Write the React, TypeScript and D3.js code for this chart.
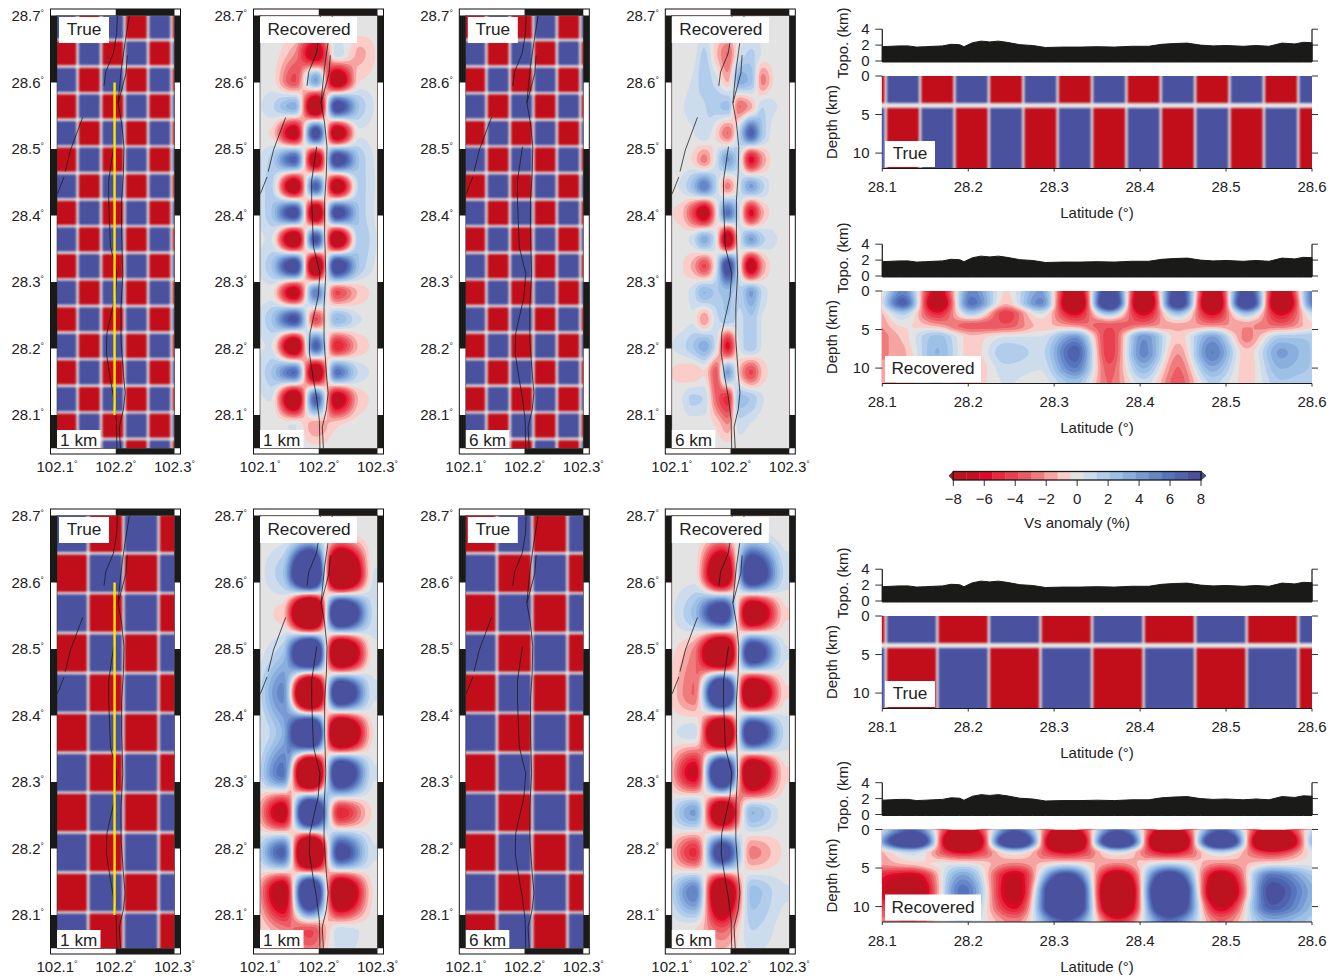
import React, { useMemo } from "react";
import * as d3 from "d3";

// ---------- colour scale ----------
const cbarColors = ["#bd1220","#c80f1f","#e2062b","#e62a3c","#e93f4e","#ec5a63","#f07b7d","#f6a4a1","#fbcdc8","#e3e3e3","#cddcec","#b2cdeb","#9cc0e6","#8aaedd","#7899d2","#6487c8","#5673bd","#4f62ae","#4a52a0"];
const cbarTicks = [-8,-6,-4,-2,0,2,4,6,8];
const RED = "#c20e1b";
const BLUE = "#4a52a0";
const GREY = "#e3e3e3";
const INK = "#1a1a18";

// ---------- axes ----------
const latTicks = [28.7,28.6,28.5,28.4,28.3,28.2,28.1];
const lonTicks = [102.1,102.2,102.3];
const profLatTicks = [28.1,28.2,28.3,28.4,28.5,28.6];
const topoTicks = [0,2,4];
const depthTicks = [0,5,10];

// ---------- true checkerboards ----------
const lonEdges04 = [102.095,102.135,102.175,102.215,102.255,102.295,102.335];
const latEdges04 = [28.024,28.064,28.104,28.144,28.184,28.224,28.264,28.304,28.344,28.384,28.424,28.464,28.504,28.544,28.584,28.624,28.664,28.704];
const lonEdges06 = [102.093,102.153,102.213,102.273,102.333];
const latEdges06 = [28.044,28.104,28.164,28.224,28.284,28.344,28.404,28.464,28.524,28.584,28.644,28.704];

// ---------- recovered maps (value at grid nodes, north to south) ----------
const lons04 = [102.08,102.118,102.158,102.195,102.231,102.27,102.31];
const lats04 = [28.724,28.684,28.644,28.604,28.564,28.524,28.484,28.444,28.404,28.364,28.324,28.284,28.244,28.204,28.164,28.124,28.084,28.044];
const map1km04 = [
  [0,0,0,0,0,0,0],
  [0,0,0,-1,0,0,0],
  [0,0,-2,-8,1,-1.5,0],
  [0,0,-4,4,-9,-0.5,0],
  [0,1,3.5,-11,9,2,0],
  [0,-0.5,-8,9,-9,0.3,0],
  [0,1.5,7,-9,9.5,2,0],
  [0,1.5,-9,7,-9,1.5,0],
  [0,2,9,-10,9,2,0],
  [0,0.5,-10,8,-10,2,0],
  [0,2,10,-11,10,2,0],
  [0,0,-8,5.5,-4,-1,0],
  [0,2,8,-4,3,0.5,0],
  [0,0.5,-10,7,-5.5,-1,0],
  [0,2,6.5,-10,6,1,0],
  [0,0.5,-10,7,-8,-1,0],
  [0,0,0.5,-2,-0.5,0,0],
  [0,0,0,0,0,0,0],
];
const lons02 = [102.075,102.115,102.135,102.155,102.175,102.195,102.215,102.235,102.255,102.275,102.315];
const map6km04 = [
  [0,0,0,0,0,0,0,0,0,0,0],
  [0,0,0,0,0,0,0,0,0,0,0],
  [0,0,0,1.5,-1,-3,0.4,1.5,0.3,0,0],
  [0,0,0.5,1.8,0.8,-1.5,3.5,2.5,-2.5,-0.3,0],
  [0,0.3,0.8,1.2,1.8,2.5,-3,-1.5,1.2,0.5,0],
  [0,0,0.3,1.2,-0.5,-3,1.5,7,2,0,0],
  [0,0,-0.5,-2.5,0.5,4,0.8,-6,-2,0,0],
  [0,0.5,2.5,5.5,1.5,-2.5,0.8,4,1.5,0,0],
  [0,-0.8,-4,-8,-1,6,0.8,-6,-1.5,0,0],
  [0,0,0.8,3.5,0.3,-9,0.3,4,1.5,0.5,0],
  [0,-0.3,-1.5,-4,0.3,9,0.3,-8,-2,0,0],
  [0,0,0.8,3,2,2.5,1.5,4,1,0,0],
  [0,0,0.3,-2,0.8,2,1,2,0.3,0,0],
  [0,0.8,2,3.5,0.8,-6,0.5,2,0.3,0,0],
  [0,-0.8,-1.2,-0.5,-3.5,4,-1.2,-4,-1,0,0],
  [0,0.3,1.5,1.2,-3,-5,2.5,2,0.5,0,0],
  [0,0,0,0,-0.5,-2,0.8,0.3,0,0,0],
  [0,0,0,0,0,0,0,0,0,0,0],
];
const lons06 = [102.085,102.1375,102.185,102.237,102.295];
const lats06 = [28.734,28.674,28.614,28.554,28.494,28.434,28.374,28.314,28.254,28.194,28.134,28.074,28.014];
const map1km06 = [
  [0,0,0,0,0],
  [0,0,0.8,-0.6,0],
  [0,2,18,-17,0.5],
  [0,-0.8,-18,15,1],
  [0,2,17,-14,0.2],
  [0,5,-18,13,0.5],
  [0,3,17,-15,-0.3],
  [0,6,-17,13,0.5],
  [0,-8,15,-5.5,-0.3],
  [0,7,-17,9,0.5],
  [0,-9,15,-12,-0.3],
  [0,-2,-4,1,0],
  [0,0,0,0,0],
];
const map6km06 = [
  [0,0,0,0,0],
  [0,0,-1,0.8,0],
  [0,0,-12,12,1],
  [0,2.5,11,-11,-0.5],
  [0,-2.5,-15,11,0.5],
  [0,-3,16,-13,-0.5],
  [0,1,-15,12,1],
  [0,-7,15,-12,-0.5],
  [0,4,-11,3,0],
  [0,-5,10,-2.5,-0.3],
  [0,5.5,-12,2.5,0.5],
  [0,-0.5,-3,1.2,0],
  [0,0,0,0,0],
];

// ---------- recovered profiles (rows = depth, columns = latitude) ----------
const depths = [0,1.5,3,4.5,6,8,10,12];
const profLats04 = [28.084,28.124,28.164,28.204,28.244,28.284,28.324,28.364,28.404,28.444,28.484,28.524,28.564,28.604];
const prof04 = [
  [-3,5,-7,5,-0.5,4,-9,10,-9,9,-9,9,-9,6],
  [-3,7,-9,6,-1,5,-11,12,-11,10,-11,11,-11,6],
  [-3,1.5,-5,1.5,-4.5,0.3,-6,2,-6,2,-6,2,-6,1],
  [-3,-0.3,-1.5,-3.5,-3.5,-1,-2,-3.5,-2.5,-1.5,-2,-2,-3,-0.5],
  [-3,-1,2.5,-1,0.5,0.5,4.5,-4.5,4.5,-1,4,-2.5,2,2],
  [-2.5,-1.5,3,-1,2,1,7,-4.5,5,-2,5.5,-1,4,2],
  [-2,-1.5,1.5,-1.5,1,0.5,5.5,-3.5,3,-3,3.5,-1,3,2],
  [-2,-1,0.5,-1,0.5,0,2.5,-3,1,-3.5,1.5,-0.8,2,1.5],
];
const profLats06 = [28.074,28.134,28.194,28.254,28.314,28.374,28.434,28.494,28.554,28.614];
const prof06 = [
  [-3,7,-9,7,-9,7,-9,7,-9,3],
  [-3,14,-16,14,-16,14,-16,14,-16,6],
  [-3,1,-6,0.5,-6,0.5,-6,1,-5,1],
  [-2.5,-1,0.3,-2.5,0.5,-2.5,1.5,-2.5,0,0.3],
  [-4,-7,4,-7,9,-9,10,-8,6,1.5],
  [-4,-10,6,-8,16,-14,16,-11,8,2.5],
  [-3,-6,4,-6,15,-12,13,-7,7,2],
  [-2.5,-3,1.5,-2.5,7,-5,6,-3,3.5,1.5],
];

// ---------- topography ----------
const topoLat = [28.1,28.11,28.12,28.13,28.14,28.15,28.16,28.17,28.18,28.19,28.195,28.205,28.215,28.225,28.235,28.245,28.26,28.275,28.29,28.31,28.33,28.35,28.37,28.39,28.41,28.425,28.44,28.455,28.47,28.485,28.5,28.52,28.535,28.55,28.565,28.58,28.59,28.6];
const topoKm = [1.8,1.85,1.9,1.9,1.75,1.8,1.85,1.9,2.1,2.05,1.8,2.3,2.5,2.4,2.5,2.35,2.05,1.95,1.7,1.75,1.75,1.8,1.75,1.85,1.85,2.1,2.2,2.25,2.0,1.9,1.95,1.85,1.95,1.85,2.25,2.15,2.35,2.3];

// ---------- faults (lon, lat) ----------
const faultA = [[102.2231,28.7005],[102.2157,28.659],[102.21,28.624],[102.206,28.589],[102.204,28.569],[102.21,28.539],[102.214,28.5035],[102.213,28.463],[102.21,28.423],[102.21,28.373],[102.212,28.313],[102.209,28.263],[102.209,28.213],[102.213,28.163],[102.216,28.133],[102.213,28.108],[102.206,28.082],[102.208,28.049]];
const faultB = [[102.2027,28.7005],[102.2016,28.674],[102.196,28.644],[102.183,28.616],[102.18,28.595]];
const faultC = [[102.2197,28.641],[102.2175,28.614],[102.21,28.589],[102.204,28.569]];
const faultD = [[102.1965,28.5035],[102.188,28.453],[102.188,28.423],[102.191,28.353],[102.202,28.313],[102.199,28.278],[102.185,28.223],[102.184,28.193],[102.191,28.153],[102.196,28.128],[102.201,28.093],[102.202,28.049]];
const faultE1 = [[102.1437,28.5476],[102.123,28.4985],[102.114,28.466]];
const faultE2 = [[102.112,28.458],[102.1006,28.4325]];
const faults = [faultA,faultB,faultC,faultD,faultE1,faultE2];
const yellowLine = [[102.198,28.6],[102.198,28.1]];

// ---------- panel list ----------
const panelLefts = [50.5,253.5,459.3,665.3];
const thresholds = d3.range(1,19).map(i => -8 + i*16/19);

// monotone cubic between grid nodes: no overshoot past the values read
function mono(p0:number,p1:number,p2:number,p3:number,t:number){
  const d0=p1-p0,d1=p2-p1,d2=p3-p2;
  const m1=d0*d1<=0?0:2*d0*d1/(d0+d1);
  const m2=d1*d2<=0?0:2*d1*d2/(d1+d2);
  const t2=t*t,t3=t2*t;
  return (2*t3-3*t2+1)*p1+(t3-2*t2+t)*m1+(-2*t3+3*t2)*p2+(t3-t2)*m2;
}
function sampler(xs:number[],ys:number[],grid:number[][]){
  const xi = d3.scaleLinear().domain(xs).range(xs.map((_,i)=>i)).clamp(true);
  const yi = d3.scaleLinear().domain(ys).range(ys.map((_,i)=>i)).clamp(true);
  const nx = xs.length, ny = ys.length;
  return (x:number,y:number)=>{
    const fx = xi(x), fy = yi(y);
    const ix = Math.min(Math.floor(fx),nx-2), iy = Math.min(Math.floor(fy),ny-2);
    const tx = fx-ix, ty = fy-iy;
    const col:number[] = [];
    for(let r=-1;r<=2;r++){
      const row = grid[Math.max(0,Math.min(ny-1,iy+r))];
      const c=(k:number)=>row[Math.max(0,Math.min(nx-1,ix+k))];
      col.push(mono(c(-1),c(0),c(1),c(2),tx));
    }
    return mono(col[0],col[1],col[2],col[3],ty);
  };
}
function bands(w:number,h:number,step:number,fn:(px:number,py:number)=>number){
  const nx=Math.ceil(w/step), ny=Math.ceil(h/step);
  const v=new Array(nx*ny);
  for(let j=0;j<ny;j++)for(let i=0;i<nx;i++)v[j*nx+i]=fn((i+0.5)*step,(j+0.5)*step);
  const cs=d3.contours().size([nx,ny]).smooth(true).thresholds(thresholds)(v);
  const path=d3.geoPath();
  return cs.map((c,i)=>({d:path(c as any)||"",fill:cbarColors[i+1]}));
}

const font="'Liberation Sans', Arial, sans-serif";
const Deg=()=> <tspan fontSize={8.5} dy={-5}>°</tspan>;

function Checker({lonE,latE,xs,ys,redParity}:{lonE:number[];latE:number[];xs:any;ys:any;redParity:number}){
  const cells:any[]=[];
  for(let j=0;j<latE.length-1;j++)for(let i=0;i<lonE.length-1;i++){
    const x0=xs(lonE[i])+1.2,x1=xs(lonE[i+1])-1.2;
    const y0=ys(latE[j+1])+1.2,y1=ys(latE[j])-1.2;
    cells.push(<rect key={i+"-"+j} x={x0} y={y0} width={x1-x0} height={y1-y0} rx={1.5} fill={(i+j)%2===redParity?RED:BLUE}/>);
  }
  return <>{cells}</>;
}

function MapPanel({left,top,kind,depthLabel,field,lonE,latE,redParity,yellow,id}:any){
  const xs=d3.scaleLinear().domain([102.1,102.3]).range([left+6.5,left+124]);
  const ys=d3.scaleLinear().domain([28.7,28.1]).range([top+7,top+406]);
  const ix0=left+6.5,ix1=left+124,iy0=top+6.5,iy1=top+439.5;
  const line=d3.line().x((d:any)=>xs(d[0])).y((d:any)=>ys(d[1]));
  const b=useMemo(()=>{
    if(!field) return null;
    const f=sampler(field.lons,field.lats,field.grid);
    return bands(ix1-ix0,iy1-iy0,1.5,(px,py)=>f(xs.invert(ix0+px),ys.invert(iy0+py)));
  },[field]);
  const latStops=[...latTicks,28.05];
  return <g>
    <rect x={left} y={top} width={130} height={445} fill="#fff" stroke="#111" strokeWidth={1}/>
    <clipPath id={id}><rect x={ix0} y={iy0} width={ix1-ix0} height={iy1-iy0}/></clipPath>
    <g clipPath={`url(#${id})`}>
      <rect x={ix0} y={iy0} width={ix1-ix0} height={iy1-iy0} fill={b?cbarColors[0]:GREY}/>
      {b&&<g transform={`translate(${ix0},${iy0}) scale(1.5)`}>{b.map((p,i)=><path key={i} d={p.d} fill={p.fill}/>)}</g>}
      {!b&&<g filter="url(#soft)"><rect x={ix0-8} y={iy0-8} width={ix1-ix0+16} height={iy1-iy0+16} fill={GREY}/><Checker lonE={lonE} latE={latE} xs={xs} ys={ys} redParity={redParity}/></g>}
      {faults.map((f,i)=><path key={i} d={line(f as any)||""} fill="none" stroke="#1a1a1a" strokeWidth={0.75}/>)}
      {yellow&&<path d={line(yellowLine as any)||""} stroke="#ffe600" strokeWidth={2.4} fill="none"/>}
    </g>
    <rect x={ix0} y={iy0} width={ix1-ix0} height={iy1-iy0} fill="none" stroke="#333" strokeWidth={0.6}/>
    {latStops.slice(0,-1).map((l,i)=>i%2===0?(
      <g key={l}>
        <rect x={left} y={ys(l)-(i===0?0.5:0)} width={6.5} height={ys(latStops[i+1])-ys(l)+(i===0?0.5:0)} fill={INK}/>
        <rect x={ix1} y={ys(l)-(i===0?0.5:0)} width={6} height={ys(latStops[i+1])-ys(l)+(i===0?0.5:0)} fill={INK}/>
      </g>):null)}
    <rect x={xs(102.2)} y={top} width={ix1-xs(102.2)} height={6.5} fill={INK}/>
    <rect x={xs(102.2)} y={iy1} width={ix1-xs(102.2)} height={5.5} fill={INK}/>
    {latTicks.map(l=><text key={l} x={left-6.5} y={ys(l)+5.3} textAnchor="end" fontSize={15}>{l.toFixed(1)}<Deg/></text>)}
    {lonTicks.map(l=><text key={l} x={xs(l)} y={top+463} textAnchor="middle" fontSize={15}>{l.toFixed(1)}<Deg/></text>)}
    {kind==="True"
      ?<rect x={left+8.5} y={top+8} width={50} height={26} fill="#fff"/>
      :<rect x={left+6.5} y={top+8} width={97} height={26} fill="#fff"/>}
    <text x={kind==="True"?left+33.5:left+55.5} y={top+25.7} textAnchor="middle" fontSize={17.2}>{kind}</text>
    <rect x={left+6.5} y={top+421} width={43.5} height={18} fill="#fff"/>
    <text x={left+28.2} y={top+436.6} textAnchor="middle" fontSize={17.2}>{depthLabel}</text>
  </g>;
}

function Profile({d0,kind,field,latE,topRed,id}:any){
  const X0=882.3,X1=1312;
  const xs=d3.scaleLinear().domain([28.1,28.6]).range([X0,X1]);
  const yd=d3.scaleLinear().domain([0,12]).range([d0,d0+92.5]);
  const yt=d3.scaleLinear().domain([0,4]).range([d0-15,d0-46.8]);
  const area=d3.area().x((d:any,i:number)=>xs(topoLat[i])).y0(d0-14).y1((d:any)=>yt(d));
  const b=useMemo(()=>{
    if(!field) return null;
    const f=sampler(field.lats,field.depths,field.grid);
    return bands(X1-X0+1,92.5,1.5,(px,py)=>f(xs.invert(X0-0.5+px),yd.invert(d0+py)));
  },[field]);
  const h=yd(12)-d0;
  return <g>
    <path d={area(topoKm as any)||""} fill={INK} stroke={INK} strokeWidth={1}/>
    <path d={`M${X0},${yt(4)}V${yt(0)}M${X1},${yt(4)}V${yt(0)}`} stroke={INK} strokeWidth={1.2}/>
    {topoTicks.map(t=><g key={t}>
      <path d={`M${X0-7},${yt(t)}H${X0}M${X1},${yt(t)}H${X1+6}`} stroke={INK} strokeWidth={0.9}/>
      <text x={869.5} y={yt(t)+5.2} textAnchor="end" fontSize={15}>{t}</text>
    </g>)}
    <clipPath id={id}><rect x={X0-0.5} y={d0} width={X1-X0+0.5} height={h}/></clipPath>
    <g clipPath={`url(#${id})`}>
      <rect x={X0-0.5} y={d0} width={X1-X0+1} height={h} fill={b?cbarColors[0]:GREY}/>
      {b&&<g transform={`translate(${X0-0.5},${d0}) scale(1.5)`}>{b.map((p,i)=><path key={i} d={p.d} fill={p.fill}/>)}</g>}
      {!b&&<g filter="url(#soft)">
        <rect x={X0-10} y={d0-10} width={X1-X0+20} height={h+20} fill={GREY}/>
        {latE.slice(0,-1).map((l:number,j:number)=>{
          const x0=xs(l)+1.2,x1=xs(latE[j+1])-1.2;
          return <g key={j}>
            <rect x={x0} y={d0-5} width={x1-x0} height={yd(3.5)-d0+5} fill={j%2===topRed?RED:BLUE}/>
            <rect x={x0} y={yd(4.15)} width={x1-x0} height={yd(14)-yd(4.15)} fill={j%2===topRed?BLUE:RED}/>
          </g>;
        })}
      </g>}
    </g>
    <path d={`M${X0},${d0+h}H${X1}`} stroke={INK} strokeWidth={1.1}/>
    {depthTicks.map(t=><g key={t}>
      <path d={`M${X0-7},${yd(t)}H${X0}M${X1},${yd(t)}H${X1+6}`} stroke={INK} strokeWidth={0.9}/>
      <text x={869.5} y={yd(t)+5.2} textAnchor="end" fontSize={15}>{t}</text>
    </g>)}
    {profLatTicks.map(t=><g key={t}>
      <path d={`M${xs(t)},${d0+h}v3`} stroke={INK} strokeWidth={0.9}/>
      <text x={xs(t)} y={d0+116} textAnchor="middle" fontSize={15}>{t.toFixed(1)}</text>
    </g>)}
    <text x={1097} y={d0+142} textAnchor="middle" fontSize={15}>Latitude (°)</text>
    <text transform={`translate(847.5,${d0-33}) rotate(-90)`} textAnchor="middle" fontSize={15}>Topo. (km)</text>
    <text transform={`translate(837,${d0+46}) rotate(-90)`} textAnchor="middle" fontSize={15}>Depth (km)</text>
    <rect x={885} y={d0+65} width={kind==="True"?50:96} height={26} fill="#fff"/>
    <text x={kind==="True"?910:933} y={d0+83} textAnchor="middle" fontSize={17.2}>{kind}</text>
  </g>;
}

function Colorbar(){
  const x=d3.scaleLinear().domain([-8,8]).range([953.3,1201]);
  const y0=471.5,y1=480;
  return <g>
    <path d={`M953.3,${y0}L949,${(y0+y1)/2}L953.3,${y1}Z`} fill={cbarColors[0]} stroke={INK} strokeWidth={0.7}/>
    <path d={`M1201,${y0}L1206,${(y0+y1)/2}L1201,${y1}Z`} fill={cbarColors[18]} stroke={INK} strokeWidth={0.7}/>
    {cbarColors.map((c,i)=><rect key={i} x={x(-8+i*16/19)} y={y0} width={x(-8+(i+1)*16/19)-x(-8+i*16/19)+0.3} height={y1-y0} fill={c}/>)}
    <rect x={953.3} y={y0} width={247.7} height={y1-y0} fill="none" stroke={INK} strokeWidth={1.3}/>
    {cbarTicks.map(t=><g key={t}>
      <path d={`M${x(t)},${y1}v6`} stroke={INK} strokeWidth={0.9}/>
      <text x={x(t)} y={503.7} textAnchor="middle" fontSize={15}>{t<0?"−"+(-t):t}</text>
    </g>)}
    <text x={1077} y={527.5} textAnchor="middle" fontSize={15}>Vs anomaly (%)</text>
  </g>;
}

const f1={lons:lons04,lats:lats04,grid:map1km04};
const f2={lons:lons02,lats:lats04,grid:map6km04};
const f3={lons:lons06,lats:lats06,grid:map1km06};
const f4={lons:lons06,lats:lats06,grid:map6km06};
const p1={lats:profLats04,depths,grid:prof04};
const p2={lats:profLats06,depths,grid:prof06};

export default function App(){
  return <svg width={1338} height={979} viewBox="0 0 1338 979" style={{position:"absolute",left:0,top:0,background:"#fff"}} fontFamily={font} fill="#222">
    <defs><filter id="soft" x="-5%" y="-5%" width="110%" height="110%" colorInterpolationFilters="sRGB"><feGaussianBlur stdDeviation={0.8}/></filter></defs>
    <MapPanel id="m1" left={panelLefts[0]} top={9} kind="True" depthLabel="1 km" lonE={lonEdges04} latE={latEdges04} redParity={1} yellow/>
    <MapPanel id="m2" left={panelLefts[1]} top={9} kind="Recovered" depthLabel="1 km" field={f1}/>
    <MapPanel id="m3" left={panelLefts[2]} top={9} kind="True" depthLabel="6 km" lonE={lonEdges04} latE={latEdges04} redParity={0}/>
    <MapPanel id="m4" left={panelLefts[3]} top={9} kind="Recovered" depthLabel="6 km" field={f2}/>
    <MapPanel id="m5" left={panelLefts[0]} top={509} kind="True" depthLabel="1 km" lonE={lonEdges06} latE={latEdges06} redParity={1} yellow/>
    <MapPanel id="m6" left={panelLefts[1]} top={509} kind="Recovered" depthLabel="1 km" field={f3}/>
    <MapPanel id="m7" left={panelLefts[2]} top={509} kind="True" depthLabel="6 km" lonE={lonEdges06} latE={latEdges06} redParity={0}/>
    <MapPanel id="m8" left={panelLefts[3]} top={509} kind="Recovered" depthLabel="6 km" field={f4}/>
    <Profile id="p1" d0={76} kind="True" latE={latEdges04} topRed={1}/>
    <Profile id="p2" d0={291} kind="Recovered" field={p1}/>
    <Profile id="p3" d0={616} kind="True" latE={latEdges06} topRed={0}/>
    <Profile id="p4" d0={829.5} kind="Recovered" field={p2}/>
    <Colorbar/>
  </svg>;
}
